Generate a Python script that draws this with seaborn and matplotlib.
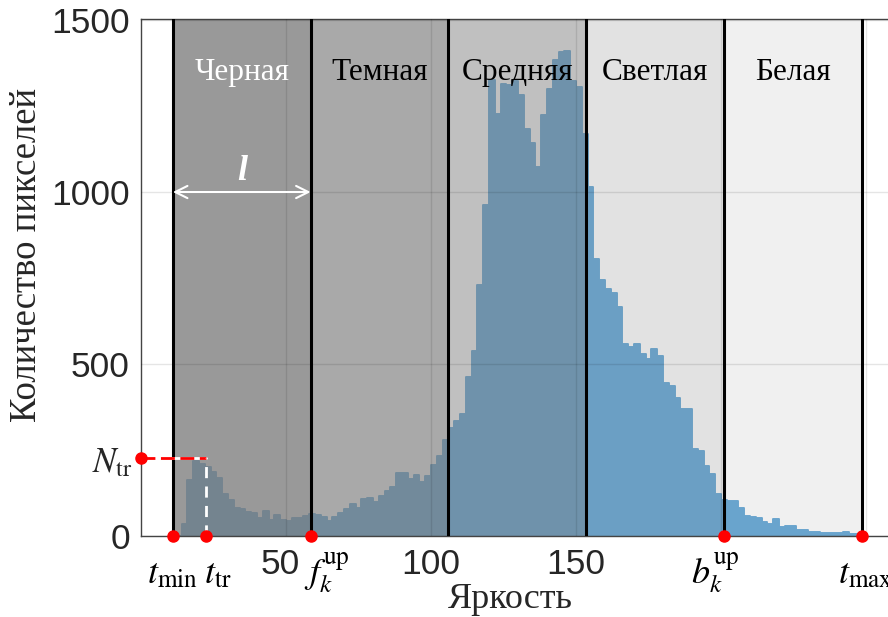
import numpy as np
import pandas as pd
import matplotlib
matplotlib.use("Agg")
import matplotlib.pyplot as plt
import matplotlib.transforms as mtransforms
import seaborn as sns

# Brightness histogram: bins of width 2 from 12 to 250
bin_edges = list(range(12, 252, 2))
pixel_counts = [
    0, 34, 163, 218, 208, 200, 186, 169, 123, 106,
    82, 78, 70, 67, 51, 72, 46, 60, 46, 44,
    52, 52, 57, 65, 62, 55, 44, 55, 68, 78,
    94, 80, 107, 111, 99, 117, 130, 143, 182, 182,
    167, 177, 157, 174, 206, 234, 279, 315, 335, 356,
    463, 538, 731, 962, 1327, 1228, 1314, 1310, 1322, 1283,
    1183, 1143, 1073, 1225, 1300, 1383, 1408, 1411, 1322, 1306,
    1170, 1015, 805, 743, 718, 706, 667, 558, 550, 558,
    528, 514, 545, 524, 444, 437, 402, 369, 368, 252,
    247, 204, 179, 123, 106, 102, 102, 80, 58, 55,
    51, 41, 36, 48, 26, 29, 29, 17, 17, 12,
    12, 10, 10, 10, 10, 12, 5, 5, 2,
]

# Brightness classes and thresholds
class_names = ["Черная", "Темная", "Средняя", "Светлая", "Белая"]
class_text_colors = ["white", "black", "black", "black", "black"]
class_shade_alpha = [0.756, 0.63, 0.467, 0.207, 0.111]
t_min = 11.0
class_width = 47.5
t_tr = 22.5
n_tr = 228
threshold_labels = [r"$t_{\mathrm{min}}$", r"$t_{\mathrm{tr}}$", r"$f_k^{\mathrm{up}}$",
                    r"$b_k^{\mathrm{up}}$", r"$t_{\mathrm{max}}$"]
x_tick_values = [50, 100, 150, 200, 250]
x_tick_labels = ["50", "100", "150", "", ""]
y_tick_values = [0, 500, 1000, 1500]

sns.set_theme(style="white")
plt.rcParams["font.family"] = ["Liberation Sans", "DejaVu Sans"]
plt.rcParams["mathtext.fontset"] = "stix"
serif = ["Liberation Serif", "DejaVu Serif"]

df = pd.DataFrame({"brightness": np.array(bin_edges[:-1]) + 1.0, "pixels": pixel_counts})
bounds = [t_min + i * class_width for i in range(6)]

fig = plt.figure(figsize=(8.88, 6.17), dpi=100)
ax = fig.add_axes([141 / 888, 1 - 536 / 617, 747 / 888, 517 / 617])

sns.histplot(data=df, x="brightness", weights="pixels", bins=bin_edges,
             element="step", fill=True, color="#68aad8", alpha=1.0,
             linewidth=1.4, ax=ax)
for art in ax.collections + ax.lines:
    art.set_zorder(1)

# Shaded brightness classes
for lo, hi, a in zip(bounds[:-1], bounds[1:], class_shade_alpha):
    ax.axvspan(lo, hi, color="#787878", alpha=a, lw=0, zorder=2)
for b in bounds:
    ax.axvline(b, color="black", lw=2.2, zorder=3)

for name, col, lo, hi in zip(class_names, class_text_colors, bounds[:-1], bounds[1:]):
    ax.text((lo + hi) / 2, 1348, name, ha="center", va="center", color=col,
            fontsize=22.5, family=serif, zorder=5)

# Class width arrow
ax.annotate("", xy=(bounds[0], 1000), xytext=(bounds[1], 1000),
            arrowprops=dict(arrowstyle="<->", color="white", lw=1.5,
                            mutation_scale=22, shrinkA=0, shrinkB=0), zorder=5)
ax.text((bounds[0] + bounds[1]) / 2, 1060, "l", color="white", ha="center",
        va="center", fontsize=26, style="italic", weight="bold",
        family=serif, zorder=5)

# Peak threshold guides
ax.plot([0, t_tr], [n_tr, n_tr], color="white", lw=2, zorder=4)
ax.plot([0, t_tr], [n_tr, n_tr], color="red", lw=2, ls=(0, (5, 2)), zorder=4)
ax.plot([t_tr, t_tr], [0, n_tr], color="white", lw=2, ls=(0, (4, 3)), zorder=4)

marker_x = [bounds[0], t_tr, bounds[1], bounds[4], bounds[5]]
ax.plot(marker_x, [0] * len(marker_x), "o", color="red", ms=8, clip_on=False, zorder=6)
ax.plot([0], [n_tr], "o", color="red", ms=8, clip_on=False, zorder=6)

label_offsets = [0, 4, 5.5, -3, 1.5]
for xv, off, lab in zip(marker_x, label_offsets, threshold_labels):
    ax.text(xv + off, -0.092, lab, transform=ax.get_xaxis_transform(),
            ha="center", va="baseline", fontsize=26, color="black")
ax.annotate(r"$N_{\mathrm{tr}}$", xy=(0, n_tr), xytext=(-6, -4),
            textcoords="offset points", ha="right", va="center",
            fontsize=25, annotation_clip=False)

ax.set_xlim(0, 257.6)
ax.set_ylim(0, 1503)
ax.set_xticks(x_tick_values)
ax.set_xticklabels(x_tick_labels)
ax.set_yticks(y_tick_values)
ax.tick_params(axis="both", direction="in", length=5, width=1, color="#444444",
               labelsize=25.5, pad=8)
ax.tick_params(axis="x", pad=9)
# nudge the "50" label left so it clears the f label
first = ax.get_xticklabels()[0]
first.set_transform(first.get_transform() +
                    mtransforms.ScaledTranslation(-6 / 100, 0, fig.dpi_scale_trans))
ax.grid(True, color="black", alpha=0.1, lw=1)
ax.set_axisbelow(False)

for side in ["left", "bottom", "top"]:
    ax.spines[side].set_color("#444444")
    ax.spines[side].set_linewidth(1)
ax.spines["right"].set_visible(False)

ax.set_xlabel("Яркость", fontsize=26, family=serif)
ax.set_ylabel("Количество пикселей", fontsize=26.5, family=serif)
ax.xaxis.set_label_coords(0.495, -0.09)
ax.yaxis.set_label_coords(-0.13, 0.543)

fig.savefig("out.png", dpi=100)
